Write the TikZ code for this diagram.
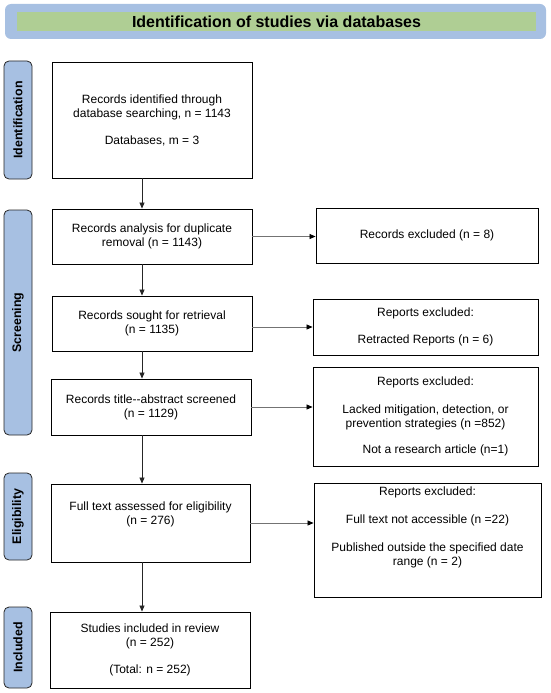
\documentclass[tikz,border=0pt]{standalone}
\usepackage{fontspec}
\setmainfont{Liberation Sans}
\usetikzlibrary{arrows.meta,calc}
\definecolor{barblue}{RGB}{167,192,226}
\definecolor{bargreen}{RGB}{175,206,148}
\begin{document}
\begin{tikzpicture}[x=1pt,y=-1pt,
  box/.style={draw=black, line width=0.9pt, inner sep=0pt, align=center, font=\fontsize{12}{14}\selectfont},
  boxtext/.style={inner sep=0pt, align=center, font=\fontsize{12}{14}\selectfont},
  side/.style={draw=black!85, fill=barblue, rounded corners=5pt, line width=0.8pt, rotate=90, inner sep=0pt, font=\bfseries\fontsize{12.4}{14}\selectfont},
  varr/.style={-{Triangle[length=6pt,width=5pt]}, line width=0.7pt, black!85},
  harr/.style={-{Triangle[length=6pt,width=5pt,color=black]}, line width=0.7pt, black!55}
]
\useasboundingbox (0,0) rectangle (550,693);
% banner
\node[fill=barblue, rounded corners=6pt, minimum width=541pt, minimum height=35pt, inner sep=0pt] (bannerbg) at (275.5,21.5) {};
\node[fill=bargreen, minimum width=519pt, minimum height=19pt, inner sep=0pt, font=\bfseries\fontsize{16}{18}\selectfont] (title) at (276.5,21.5) {Identification of studies via databases};
% side bars
\node[side, minimum width=118pt, minimum height=28pt] (s1) at (18,120) {Identification};
\node[side, minimum width=225pt, minimum height=28pt] (s2) at (18,322.5) {Screening};
\node[side, minimum width=87pt, minimum height=28pt] (s3) at (18,516.5) {Eligibility};
\node[side, minimum width=81pt, minimum height=28pt] (s4) at (18,647.5) {Included};
% left column
\node[box, minimum width=200pt, minimum height=116pt] (b1) at (152,120) {Records identified through\\database searching, n = 1143\\[13pt]Databases, m = 3};
\node[box, minimum width=200pt, minimum height=55pt] (b2) at (152,236.5) {Records analysis for duplicate\\removal (n = 1143)};
\node[box, minimum width=200pt, minimum height=55pt] (b3) at (152,323.5) {Records sought for retrieval\\(n = 1135)};
\node[box, minimum width=200pt, minimum height=56pt] (b4) at (151,407) {Records title-{}-abstract screened\\(n = 1129)};
\node[box, minimum width=199pt, minimum height=78pt] (b5) at (150.5,523) {};
\node[boxtext] (b5t) at (150.5,514) {Full text assessed for eligibility\\(n = 276)};
\node[box, minimum width=200pt, minimum height=76pt] (b6) at (150,650) {Studies included in review\\(n = 252)\\[13pt](Total: n = 252)};
% right column
\node[box, minimum width=222pt, minimum height=55pt] (r1) at (427,235.5) {Records excluded (n = 8)};
\node[box, minimum width=225pt, minimum height=56pt] (r2) at (425.5,327) {Reports excluded:\\[13pt]Retracted Reports (n = 6)};
\node[box, minimum width=225pt, minimum height=99pt] (r3) at (425.5,416.5) {Reports excluded:\\[14pt]Lacked mitigation, detection, or\\prevention strategies (n =852)\\[12pt]\hspace*{20pt}Not a research article (n=1)};
\node[box, minimum width=227pt, minimum height=114pt] (r4) at (427.5,540) {};
\node[boxtext, anchor=north] (r4t) at (427.5,487) {Reports excluded:\\[14pt]Full text not accessible (n =22)\\[14pt]Published outside the specified date\\range (n = 2)};
% vertical connectors
\coordinate (vx) at (142,0);
\draw[varr] (b1.south -| vx) -- (b2.north -| vx);
\draw[varr] (b2.south -| vx) -- (b3.north -| vx);
\draw[varr] (b3.south -| vx) -- (b4.north -| vx);
\draw[varr] (b4.south -| vx) -- (b5.north -| vx);
\draw[varr] (b5.south -| vx) -- (b6.north -| vx);
% horizontal connectors
\draw[harr] (b2.east) -- (b2.east -| r1.west);
\draw[harr] (b3.east |- r2.west) -- (r2.west);
\draw[harr] (b4.east) -- (b4.east -| r3.west);
\draw[harr] (b5.east) -- (b5.east -| r4.west);
\end{tikzpicture}
\end{document}
